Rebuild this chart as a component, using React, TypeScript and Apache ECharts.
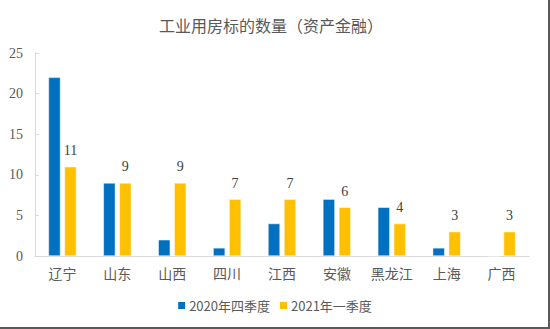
import React, { useEffect, useRef } from "react";
import * as echarts from "echarts";

const categories = ["辽宁", "山东", "山西", "四川", "江西", "安徽", "黑龙江", "上海", "广西"];
const series2020Q4 = [22, 9, 2, 1, 4, 7, 6, 1, 0];
const series2021Q1 = [11, 9, 9, 7, 7, 6, 4, 3, 3];
const seriesNames = ["2020年四季度", "2021年一季度"];
const yTicks = { min: 0, max: 25, interval: 5 };

const serif = "'Liberation Serif', 'Noto Sans CJK SC', serif";

export default function App() {
  const ref = useRef<HTMLDivElement>(null);
  useEffect(() => {
    document.body.style.margin = "0";
    const chart = echarts.init(ref.current!, null, { renderer: "svg" });
    chart.setOption({
      animation: false,
      backgroundColor: "#ffffff",
      title: {
        text: "工业用房标的数量（资产金融）",
        left: 266,
        textAlign: "center",
        top: 13,
        textStyle: { fontFamily: serif, fontSize: 16, fontWeight: "normal", color: "#595959" },
      },
      legend: {
        data: seriesNames,
        bottom: 10,
        left: "center",
        itemWidth: 9,
        itemHeight: 9,
        itemGap: 8,
        icon: "rect",
        textStyle: { fontFamily: "'Noto Sans CJK SC', sans-serif", fontSize: 13, color: "#595959", padding: [0, 0, 0, -2] },
      },
      grid: { left: 35, right: 19, top: 53, bottom: 71, containLabel: false },
      xAxis: {
        type: "category",
        data: categories,
        axisLine: { lineStyle: { color: "#d9d9d9", width: 1 } },
        axisTick: { show: false },
        axisLabel: { fontFamily: serif, fontSize: 14, color: "#595959", margin: 11 },
      },
      yAxis: {
        type: "value",
        min: yTicks.min,
        max: yTicks.max,
        interval: yTicks.interval,
        axisLine: { show: true, lineStyle: { color: "#d9d9d9" } },
        axisTick: { show: true, inside: true, length: 4, lineStyle: { color: "#d9d9d9" } },
        splitLine: { show: false },
        axisLabel: { fontFamily: serif, fontSize: 14, color: "#595959", margin: 12 },
      },
      series: [
        {
          name: seriesNames[0],
          type: "bar",
          data: series2020Q4,
          barWidth: 12,
          barGap: "33%",
          itemStyle: { color: "#0070C0", borderColor: "#ffffff", borderWidth: 0.5 },
        },
        {
          name: seriesNames[1],
          type: "bar",
          data: series2021Q1,
          barWidth: 12,
          itemStyle: { color: "#FFC000", borderColor: "#ffffff", borderWidth: 0.5 },
          label: {
            show: true,
            position: "top",
            distance: 9,
            fontFamily: serif,
            fontSize: 14,
            color: "#404040",
          },
        },
      ],
    });
    return () => chart.dispose();
  }, []);
  return (
    <div
      style={{
        position: "absolute",
        left: 0,
        top: 0,
        width: 548,
        height: 327,
        borderRight: "2px solid #5a5a5a",
        borderBottom: "2px solid #5a5a5a",
        background: "#fff",
      }}
    >
      <div ref={ref} style={{ width: 548, height: 327 }} />
    </div>
  );
}
